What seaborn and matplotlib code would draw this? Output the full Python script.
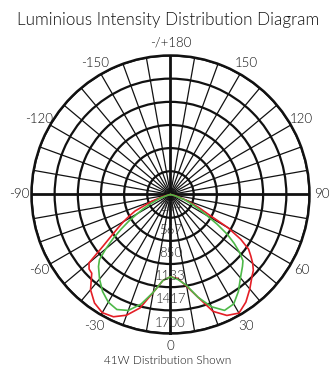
import matplotlib
matplotlib.use("Agg")
import matplotlib.pyplot as plt
import seaborn as sns
import pandas as pd
import numpy as np

angulos = [-90, -85, -80, -75, -70, -65, -62.5, -60, -57.5, -55, -52.5, -50,
           -47.5, -45, -40, -35, -30, -25, -20, -15, -10, -5, 0, 5, 10, 15,
           20, 25, 30, 35, 40, 45, 47.5, 50, 52.5, 55, 57.5, 60, 62.5, 65,
           70, 75, 80, 85, 90]
curva_roja = [0, 0, 0, 86, 245, 479, 564, 663, 761, 883, 1043, 1301,
              1350, 1362, 1521, 1620, 1669, 1650, 1571, 1436, 1215, 1055, 1006,
              1031, 1141, 1301, 1521, 1632, 1675, 1607, 1509, 1411, 1374, 1313,
              1239, 1166, 1018, 810, 515, 393, 209, 74, 0, 0, 0]
curva_verde = [0, 0, 0, 37, 135, 270, 368, 466, 601, 736, 883, 1031,
               1178, 1245, 1350, 1448, 1521, 1552, 1509, 1387, 1215, 1055, 1006,
               1043, 1129, 1301, 1460, 1564, 1546, 1448, 1331, 1245, 1202, 1104,
               982, 847, 675, 515, 405, 307, 172, 49, 0, 0, 0]
anillos = [284, 567, 850, 1133, 1417, 1700]
radio_max = 1700
etiquetas_angulo = {0: "0", 30: "30", 60: "60", 90: "90", 120: "120",
                    150: "150", 180: "-/+180", 210: "-150", 240: "-120",
                    270: "-90", 300: "-60", 330: "-30"}

sns.set_style("white")
plt.rcParams['font.family'] = ['Lato', 'DejaVu Sans']

df = pd.DataFrame({
    "theta": np.deg2rad(angulos * 2),
    "cd": curva_roja + curva_verde,
    "serie": ["rojo"] * len(angulos) + ["verde"] * len(angulos),
})

fig = plt.figure(figsize=(3.36, 3.69), dpi=100)
ax = fig.add_axes([0.0937, 0.0962, 0.8274, 0.7534], projection="polar")
ax.set_theta_zero_location("S")
ax.set_theta_direction(1)

# Rejilla polar
ticks = list(range(0, 360, 10))
ax.set_thetagrids(ticks, [etiquetas_angulo.get(t, "") for t in ticks],
                  fontweight=300)
ax.set_rgrids(anillos, labels=[""] * len(anillos))
ax.set_ylim(0, radio_max)
ax.tick_params(axis="x", pad=-1.5, labelsize=9.5, colors="#111111")
for i, gl in enumerate(ax.xaxis.get_gridlines()):
    gl.set_color("#111111")
    gl.set_linewidth(2.0 if ticks[i] % 90 == 0 else 0.9)
    gl.set_linestyle("-")
    gl.set_alpha(1)
for gl in ax.yaxis.get_gridlines():
    gl.set_color("#111111")
    gl.set_linewidth(1.6)
    gl.set_linestyle("-")
    gl.set_alpha(1)
ax.spines["polar"].set_linewidth(1.8)
ax.spines["polar"].set_color("#111111")

sns.lineplot(data=df, x="theta", y="cd", hue="serie", sort=False,
             palette={"rojo": "#e41e26", "verde": "#4db848"},
             linewidth=1.2, legend=False, ax=ax, zorder=5)
ax.set_xlabel("")
ax.set_ylabel("")

# Etiquetas de los anillos
paso = anillos[0]
for v in anillos:
    ax.text(0, v - 0.47 * paso, str(v), ha="center", va="center",
            fontsize=9.5, fontweight=300, color="#222222", zorder=6)

fig.text(0.5, 0.945, "Luminious Intensity Distribution Diagram",
         ha="center", va="center", fontsize=12.3, fontweight=300,
         color="#111111")
fig.text(0.5, 0.022, "41W Distribution Shown", ha="center", va="center",
         fontsize=8.5, fontweight=300, color="#111111")

fig.savefig("out.png", dpi=100)
